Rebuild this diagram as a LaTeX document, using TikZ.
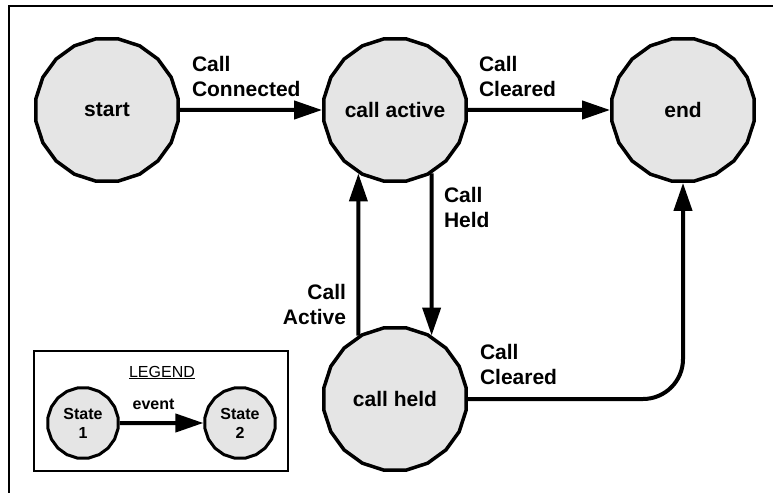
\documentclass[tikz,border=0pt]{standalone}
\usepackage{fontspec}
\setmainfont{Liberation Sans}
\usetikzlibrary{arrows.meta, shapes.geometric}
\definecolor{stateGray}{gray}{0.9}

\begin{document}
\begin{tikzpicture}[->,>={Triangle[length=28pt,width=18pt]},x=1pt,y=-1pt,
		line width=4pt, every node/.style={font=\bfseries\fontsize{21}{25}\selectfont}]
		\tikzstyle{StateStyle}=[draw,line width=3.5pt,fill=stateGray,regular polygon,regular polygon sides=20,minimum size=144pt,inner sep=0pt]
		\tikzstyle{LegendStyle}=[StateStyle,line width=3pt,minimum size=71pt,align=center,font=\bfseries\fontsize{16}{19}\selectfont]
		\tikzstyle{LabelStyle}=[inner sep=0pt,anchor=north west,align=left]

		\useasboundingbox (0,0) rectangle (773,495);
		\draw[-,line width=2pt] (773,6) -- (9,6) -- (9,493);

		\node at (107,110) [StateStyle] (start) {start};
		\node at (395,110) [StateStyle] (callActive) {call active};
		\node at (683,110) [StateStyle] (endState) {end};
		\node at (395,399) [StateStyle] (callHeld) {call held};

		\node at (190,54) [LabelStyle] (lblConnected) {Call\\Connected};
		\node at (477,54) [LabelStyle] (lblClearedTop) {Call\\Cleared};
		\node at (442,185) [LabelStyle] (lblHeld) {Call\\Held};
		\node at (348,282) [LabelStyle,anchor=north east,align=right] (lblActive) {Call\\Active};
		\node at (478,342) [LabelStyle] (lblClearedLow) {Call\\Cleared};

		\path
		(start) edge (callActive)
		(callActive) edge (endState)
		(callHeld.120) edge (callActive.240)
		(callActive.300) edge (callHeld.60);
		\draw[rounded corners=40pt] (callHeld.east) -| (endState.south);

		% legend
		\draw[-,line width=2pt] (34,351) rectangle (288,471);
		\node at (162,377) [anchor=base,font=\fontsize{16}{19}\selectfont] (legendTitle) {\underline{LEGEND}};
		\node at (83,423) [LegendStyle] (stateOne) {State\\1};
		\node at (240,423) [LegendStyle] (stateTwo) {State\\2};
		\path (stateOne) edge node [above,inner sep=0pt,yshift=11pt,xshift=-8pt,font=\bfseries\fontsize{16}{19}\selectfont] (lblEvent) {event} (stateTwo);
\end{tikzpicture}
\end{document}
